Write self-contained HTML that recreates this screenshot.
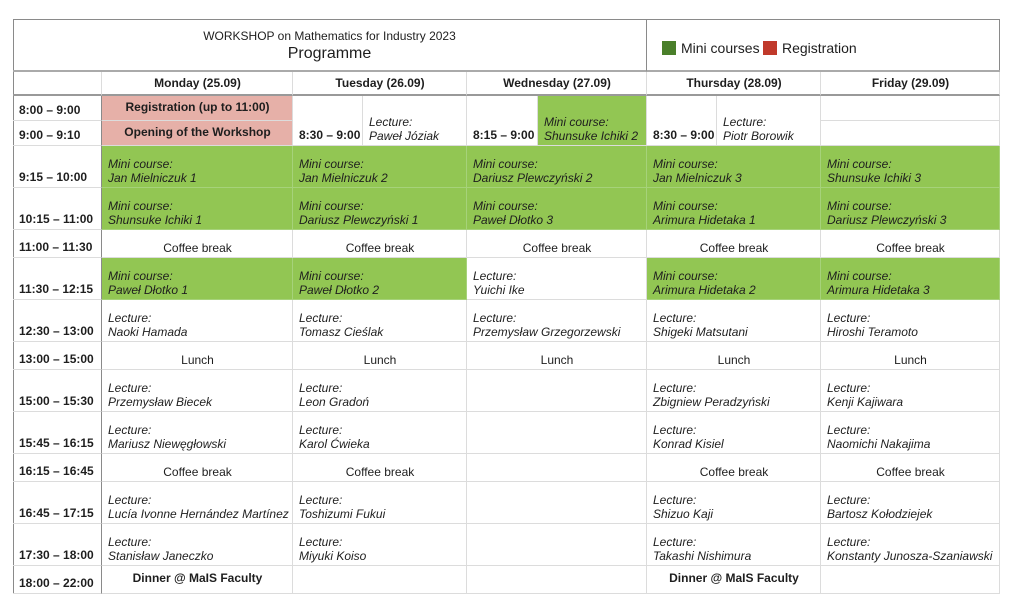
<!DOCTYPE html>
<html><head><meta charset="utf-8">
<style>
body{margin:0;width:1024px;height:615px;background:#fff;position:relative;overflow:hidden;font-family:"Liberation Sans","DejaVu Sans",sans-serif;color:#1e1e1e}
.c{position:absolute;box-sizing:border-box;border-right:1px solid #dcdcdc;border-bottom:1px solid #dcdcdc;display:flex;flex-direction:column;justify-content:flex-end;padding:0 5px 2px 6px;font-size:12px;line-height:14px;white-space:nowrap;overflow:hidden}
.i{font-style:italic}
.b{font-weight:bold}
.ctr{align-items:center;text-align:center}
.g{background:#92c653}
.p{background:#e6b0a8}
.t{font-weight:bold;padding-bottom:3px}
</style></head><body>
<div style="position:absolute;left:13px;top:19px;width:987px;height:575px;border:1px solid #8a8a8a;box-sizing:border-box"></div>
<div style="position:absolute;left:13px;top:19px;width:634px;height:53px;text-align:center;border-right:1px solid #8a8a8a;border-bottom:2px solid #aaa;box-sizing:border-box">
 <div style="font-size:12px;margin-top:10px">WORKSHOP on Mathematics for Industry 2023</div>
 <div style="font-size:16px;margin-top:2px">Programme</div>
</div>
<div style="position:absolute;left:647px;top:19px;width:353px;height:53px;border-bottom:2px solid #aaa;box-sizing:border-box;font-size:14px">
 <div style="position:absolute;left:15px;top:21px;white-space:nowrap"><span style="display:inline-block;width:14px;height:14px;background:#4a7f2a;vertical-align:-2px;margin-right:5px"></span>Mini courses</div>
 <div style="position:absolute;left:116px;top:21px;white-space:nowrap"><span style="display:inline-block;width:14px;height:14px;background:#c0392b;vertical-align:-2px;margin-right:5px"></span>Registration</div>
</div>
<div id="grid"></div>
<script>
const colX=[13,102,293,467,647,821,1000];
const rowY=[96,121,146,188,230,258,300,342,370,412,454,482,524,566,594];
const days=["Monday (25.09)","Tuesday (26.09)","Wednesday (27.09)","Thursday (28.09)","Friday (29.09)"];
const times=["8:00 – 9:00","9:00 – 9:10","9:15 – 10:00","10:15 – 11:00","11:00 – 11:30","11:30 – 12:15","12:30 – 13:00","13:00 – 15:00","15:00 – 15:30","15:45 – 16:15","16:15 – 16:45","16:45 – 17:15","17:30 – 18:00","18:00 – 22:00"];
// rows 2..13: [type, text] per day; type: M mini, L lecture, C centered, D dinner, E empty, W white lecture
const sched=[
[["M","Jan Mielniczuk 1"],["M","Jan Mielniczuk 2"],["M","Dariusz Plewczyński 2"],["M","Jan Mielniczuk 3"],["M","Shunsuke Ichiki 3"]],
[["M","Shunsuke Ichiki 1"],["M","Dariusz Plewczyński 1"],["M","Paweł Dłotko 3"],["M","Arimura Hidetaka 1"],["M","Dariusz Plewczyński 3"]],
[["C","Coffee break"],["C","Coffee break"],["C","Coffee break"],["C","Coffee break"],["C","Coffee break"]],
[["M","Paweł Dłotko 1"],["M","Paweł Dłotko 2"],["L","Yuichi Ike"],["M","Arimura Hidetaka 2"],["M","Arimura Hidetaka 3"]],
[["L","Naoki Hamada"],["L","Tomasz Cieślak"],["L","Przemysław Grzegorzewski"],["L","Shigeki Matsutani"],["L","Hiroshi Teramoto"]],
[["C","Lunch"],["C","Lunch"],["C","Lunch"],["C","Lunch"],["C","Lunch"]],
[["L","Przemysław Biecek"],["L","Leon Gradoń"],["E",""],["L","Zbigniew Peradzyński"],["L","Kenji Kajiwara"]],
[["L","Mariusz Niewęgłowski"],["L","Karol Ćwieka"],["E",""],["L","Konrad Kisiel"],["L","Naomichi Nakajima"]],
[["C","Coffee break"],["C","Coffee break"],["E",""],["C","Coffee break"],["C","Coffee break"]],
[["L","Lucía Ivonne Hernández Martínez"],["L","Toshizumi Fukui"],["E",""],["L","Shizuo Kaji"],["L","Bartosz Kołodziejek"]],
[["L","Stanisław Janeczko"],["L","Miyuki Koiso"],["E",""],["L","Takashi Nishimura"],["L","Konstanty Junosza-Szaniawski"]],
[["D","Dinner @ MaIS Faculty"],["E",""],["E",""],["D","Dinner @ MaIS Faculty"],["E",""]]
];
const grid=document.getElementById('grid');
function cell(x1,y1,x2,y2,cls,html){
 const d=document.createElement('div');
 d.className='c '+cls;
 d.style.left=x1+'px';d.style.top=y1+'px';d.style.width=(x2-x1)+'px';d.style.height=(y2-y1)+'px';
 d.innerHTML=html;grid.appendChild(d);return d;
}
let e;
e=cell(13,72,102,96,'','');


e.style.borderBottom='2px solid #999';
days.forEach((t,i)=>{
 e=cell(colX[i+1],72,colX[i+2],96,'b ctr',t);
 
 
 e.style.borderBottom='2px solid #999';e.style.justifyContent='center';e.style.paddingBottom='0';
});
times.forEach((t,i)=>{
 e=cell(13,rowY[i],102,rowY[i+1],'t',t);
 
 
 e.style.borderRight='1px solid #8a8a8a';
});
e=cell(102,96,293,121,'p b ctr','Registration (up to 11:00)');


e.style.justifyContent='center';
e=cell(102,121,293,146,'p b ctr','Opening of the Workshop');


e.style.justifyContent='center';
const early=[[293,363,467,"8:30 – 9:00","L","Paweł Józiak"],[467,538,647,"8:15 – 9:00","M","Shunsuke Ichiki 2"],[647,717,821,"8:30 – 9:00","L","Piotr Borowik"]];
early.forEach(a=>{
 e=cell(a[0],96,a[1],146,'t',a[3]);
 
 
 e=cell(a[1],96,a[2],146,'i'+(a[4]=='M'?' g':''),(a[4]=='M'?'Mini course:':'Lecture:')+'<span>'+a[5]+'</span>');
 
 
});
e=cell(821,96,1000,121,'','');


e=cell(821,121,1000,146,'','');


sched.forEach((row,ri)=>{
 row.forEach((s,di)=>{
  const x1=colX[di+1],x2=colX[di+2],y1=rowY[ri+2],y2=rowY[ri+3];
  let cls='',h='';
  if(s[0]=='M'){cls='i g';h='Mini course:<span>'+s[1]+'</span>';}
  else if(s[0]=='L'){cls='i';h='Lecture:<span>'+s[1]+'</span>';}
  else if(s[0]=='C'){cls='ctr';h=s[1];}
  else if(s[0]=='D'){cls='b ctr';h=s[1];}
  e=cell(x1,y1,x2,y2,cls,h);
  
  
  if(s[0]=='M')e.style.borderColor='#a6d27a';
  if(s[0]=='D'){e.style.justifyContent='center';e.style.paddingBottom='4px';}
 });
});
</script>
</body></html>
